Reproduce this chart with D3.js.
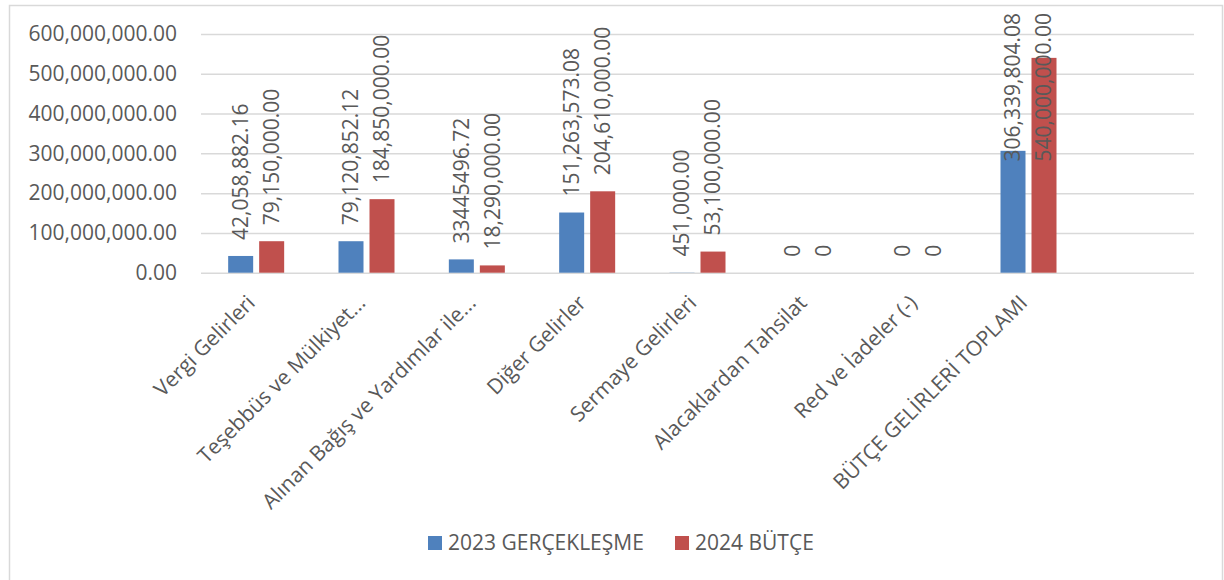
<!DOCTYPE html>
<head>
  <meta charset="utf-8">
  <script src="https://d3js.org/d3.v7.min.js"></script>
  <style>
    body { margin: 0; background: #fff; }
    svg text { font-family: "Open Sans", sans-serif; fill: #595959; }
  </style>
</head>
<body>
  <script>
    var outerWidth = 1224,
      outerHeight = 580;

    // categories (the last slot is empty in the original chart)
    var categories = ['Vergi Gelirleri', 'Teşebbüs ve Mülkiyet...', 'Alınan Bağış ve Yardımlar ile...',
      'Diğer Gelirler', 'Sermaye Gelirleri', 'Alacaklardan Tahsilat', 'Red ve İadeler (-)',
      'BÜTÇE GELİRLERİ TOPLAMI', ''];

    var seriesNames = ['2023 GERÇEKLEŞME', '2024 BÜTÇE'];
    var seriesColors = ['#4f81bd', '#c0504d'];

    var values2023 = [42058882.16, 79120852.12, 33445496.72, 151263573.08, 451000, 0, 0, 306339804.08, null];
    var values2024 = [79150000, 184850000, 18290000, 204610000, 53100000, 0, 0, 540000000, null];

    // data labels as printed on the chart
    var labels2023 = ['42,058,882.16', '79,120,852.12', '33445496.72', '151,263,573.08', '451,000.00', '0', '0', '306,339,804.08', ''];
    var labels2024 = ['79,150,000.00', '184,850,000.00', '18,290,000.00', '204,610,000.00', '53,100,000.00', '0', '0', '540,000,000.00', ''];

    var yTicks = [0, 100000000, 200000000, 300000000, 400000000, 500000000, 600000000];

    var margin = { top: 34, left: 201, right: 30, bottom: 307 };

    var svg = d3.select("body").append("svg")
      .attr("width", outerWidth)
      .attr("height", outerHeight);

    // chart area border
    svg.append("rect")
      .attr("x", 9.5).attr("y", 5.5)
      .attr("width", 1213).attr("height", 600)
      .attr("fill", "#fff")
      .attr("stroke", "#d9d9d9")
      .attr("stroke-width", 1.5);

    var xScale = d3.scaleBand()
      .domain(d3.range(categories.length))
      .range([margin.left, 1194]);

    var yScale = d3.scaleLinear()
      .domain([0, 600000000])
      .range([272.7, 34]);

    // gridlines + y tick labels
    var yAxis = d3.axisLeft(yScale)
      .tickValues(yTicks)
      .tickSize(-(1194 - margin.left))
      .tickPadding(24)
      .tickFormat(d3.format(",.2f"));

    var yAxisContainer = svg.append("g")
      .attr("transform", "translate(" + margin.left + " 0)")
      .call(yAxis);
    yAxisContainer.select(".domain").remove();
    yAxisContainer.selectAll("line").attr("stroke", "#d9d9d9").attr("stroke-width", 1.5);
    yAxisContainer.selectAll("text")
      .style("font-size", "21px")
      .attr("fill", "#595959");

    var barWidth = 25, gap = 3;
    var series = [
      { name: seriesNames[0], values: values2023, labels: labels2023, color: seriesColors[0], offset: -gap - barWidth },
      { name: seriesNames[1], values: values2024, labels: labels2024, color: seriesColors[1], offset: gap }
    ];

    series.forEach(function(s) {
      var rows = categories.map(function(c, i) {
        return { i: i, value: s.values[i], label: s.labels[i] };
      }).filter(function(d) { return d.value !== null; });

      svg.append("g").selectAll("rect")
        .data(rows)
        .enter().append("rect")
        .attr("x", function(d) { return xScale(d.i) + xScale.bandwidth() / 2 + s.offset; })
        .attr("y", function(d) { return yScale(d.value); })
        .attr("width", barWidth)
        .attr("height", function(d) { return yScale(0) - yScale(d.value); })
        .attr("fill", s.color);

      // rotated data labels, pushed down if they would leave the chart
      svg.append("g").selectAll("text")
        .data(rows)
        .enter().append("text")
        .style("font-size", "21px")
        .attr("text-anchor", "start")
        .attr("dy", "0.35em")
        .text(function(d) { return d.label; })
        .attr("transform", function(d) {
          var len = this.getComputedTextLength();
          var cx = xScale(d.i) + xScale.bandwidth() / 2 + s.offset + barWidth / 2;
          var bottom = Math.max(yScale(d.value) - 16, 13 + len);
          return "translate(" + cx + " " + bottom + ") rotate(-90)";
        });
    });

    // category labels
    svg.append("g").selectAll("text")
      .data(categories)
      .enter().append("text")
      .style("font-size", "21px")
      .attr("text-anchor", "end")
      .attr("dy", "0.35em")
      .attr("transform", function(d, i) {
        return "translate(" + (xScale(i) + xScale.bandwidth() / 2 - 5) + " 299) rotate(-45)";
      })
      .text(function(d) { return d; });

    // legend
    var legend = svg.append("g");
    var legendX = [428, 675];
    seriesNames.forEach(function(name, i) {
      legend.append("rect")
        .attr("x", legendX[i]).attr("y", 536)
        .attr("width", 14).attr("height", 14)
        .attr("fill", seriesColors[i]);
      legend.append("text")
        .attr("x", legendX[i] + 20).attr("y", 543)
        .attr("dy", "0.35em")
        .style("font-size", "21px")
        .text(name);
    });
  </script>
</body>
